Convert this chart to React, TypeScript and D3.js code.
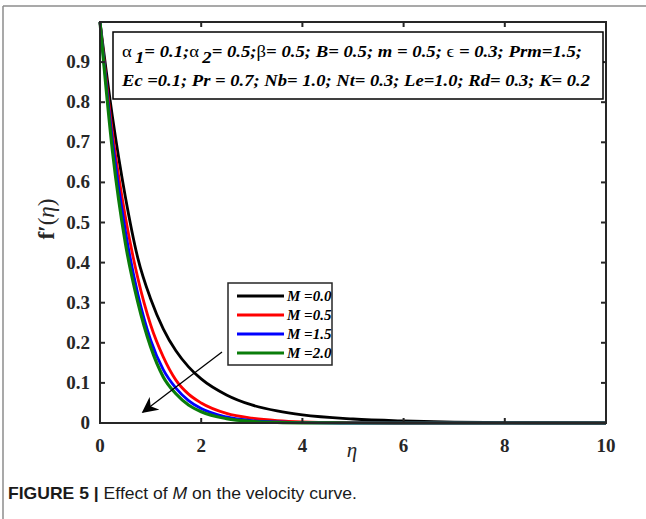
import React from "react";
import * as d3 from "d3";

const ETA = [0, 0.25, 0.5, 0.75, 1, 1.25, 1.5, 1.75, 2, 2.5, 3, 3.5, 4, 5, 6, 7, 8, 10];
const M_00 = [1, 0.76, 0.565, 0.41, 0.31, 0.235, 0.18, 0.14, 0.11, 0.07, 0.045, 0.03, 0.02, 0.01, 0.005, 0.002, 0.001, 0];
const M_05 = [1, 0.72, 0.515, 0.36, 0.245, 0.165, 0.107, 0.072, 0.05, 0.024, 0.012, 0.006, 0.003, 0.001, 0, 0, 0, 0];
const M_15 = [1, 0.70, 0.48, 0.32, 0.207, 0.133, 0.087, 0.056, 0.036, 0.015, 0.006, 0.003, 0.001, 0, 0, 0, 0, 0];
const M_20 = [1, 0.675, 0.45, 0.30, 0.19, 0.115, 0.073, 0.045, 0.028, 0.011, 0.004, 0.0015, 0.0005, 0, 0, 0, 0, 0];

const SERIES_LABELS = ["M =0.0", "M =0.5", "M =1.5", "M =2.0"];
const SERIES_VALUES = [M_00, M_05, M_15, M_20];
const SERIES_COLORS = ["#000000", "#ff0000", "#0000ff", "#0a7d0a"];

const X_TICKS = [0, 2, 4, 6, 8, 10];
const Y_TICKS = [0, 0.1, 0.2, 0.3, 0.4, 0.5, 0.6, 0.7, 0.8, 0.9, 1.0];
const Y_TICK_LABELS = ["0", "0.1", "0.2", "0.3", "0.4", "0.5", "0.6", "0.7", "0.8", "0.9", ""];

const W = 646;
const H = 519;
const SERIF = "Liberation Serif";
const SANS = "Liberation Sans";
const AXIS = "#262626";

export default function App() {
  const x = d3.scaleLinear().domain([0, 10]).range([100, 606]);
  const y = d3.scaleLinear().domain([0, 1]).range([423, 22]);
  const line = d3
    .line<number>()
    .x((_, i) => x(ETA[i]))
    .y((d) => y(d))
    .curve(d3.curveMonotoneX);

  const legendX = 228;
  const legendY = 283;
  const legendRows = [296, 315, 334, 353];

  const greek = { fontWeight: "normal", fontStyle: "normal" } as React.CSSProperties;

  return (
    <svg
      width={W}
      height={H}
      style={{ position: "absolute", left: 0, top: 0, background: "#fff" }}
    >
      <defs>
        <marker id="arrowhead" viewBox="0 0 10 10" refX="9" refY="5" markerWidth="16" markerHeight="16" markerUnits="userSpaceOnUse" orient="auto">
          <path d="M0,0 L10,5 L0,10 L3,5 Z" fill="#000" />
        </marker>
      </defs>
      {/* outer frame */}
      <line x1={3} y1={6} x2={W} y2={6} stroke="#8c8c8c" strokeWidth={1.5} />
      <line x1={3} y1={6} x2={3} y2={H} stroke="#8c8c8c" strokeWidth={1.5} />

      {/* curves */}
      <g fill="none">
        {SERIES_VALUES.map((vals, i) => (
          <path
            key={i}
            d={line(vals) || ""}
            stroke={SERIES_COLORS[i]}
            strokeWidth={i === 3 ? 3.2 : 2.8}
            strokeLinejoin="round"
          />
        ))}
      </g>

      {/* axes box */}
      <rect x={x(0)} y={y(1)} width={x(10) - x(0)} height={y(0) - y(1)} fill="none" stroke={AXIS} strokeWidth={2} />
      {X_TICKS.map((t) => (
        <g key={"xt" + t}>
          <line x1={x(t)} x2={x(t)} y1={y(0)} y2={y(0) - 5} stroke={AXIS} strokeWidth={2} />
          <line x1={x(t)} x2={x(t)} y1={y(1)} y2={y(1) + 5} stroke={AXIS} strokeWidth={2} />
          <text x={x(t)} y={452} textAnchor="middle" fontFamily={SERIF} fontWeight="bold" fontSize={19} fill="#262626">
            {t}
          </text>
        </g>
      ))}
      {Y_TICKS.map((t, i) => (
        <g key={"yt" + i}>
          <line x1={x(0)} x2={x(0) + 5} y1={y(t)} y2={y(t)} stroke={AXIS} strokeWidth={2} />
          <line x1={x(10)} x2={x(10) - 5} y1={y(t)} y2={y(t)} stroke={AXIS} strokeWidth={2} />
          <text x={90} y={y(t) + 6} textAnchor="end" fontFamily={SERIF} fontWeight="bold" fontSize={19} fill="#262626">
            {Y_TICK_LABELS[i]}
          </text>
        </g>
      ))}

      {/* axis labels */}
      <text x={352} y={457} textAnchor="middle" fontFamily={SERIF} fontStyle="italic" fontSize={21} fill="#262626">
        η
      </text>
      <text transform="translate(54,219) rotate(-90)" textAnchor="middle" fontFamily={SERIF} fontSize={23} fill="#262626">
        <tspan fontWeight="bold">f′</tspan>
        <tspan>(</tspan>
        <tspan fontStyle="italic">η</tspan>
        <tspan>)</tspan>
      </text>

      {/* annotation box */}
      <rect x={113} y={32} width={490} height={67} fill="#fff" stroke="#000" strokeWidth={1.5} />
      <text x={122} y={57} fontFamily={SERIF} fontWeight="bold" fontStyle="italic" fontSize={17.5} fill="#000" textLength={460} lengthAdjust="spacingAndGlyphs">
        <tspan style={greek}>α</tspan>
        <tspan dx={3} dy={6}>1</tspan>
        <tspan dy={-6}>= 0.1;</tspan>
        <tspan style={greek}>α</tspan>
        <tspan dx={3} dy={6}>2</tspan>
        <tspan dy={-6}>= 0.5;</tspan>
        <tspan style={greek}>β</tspan>
        <tspan>= 0.5; B= 0.5; m = 0.5; </tspan>
        <tspan style={greek}>ϵ</tspan>
        <tspan> = 0.3; Prm=1.5;</tspan>
      </text>
      <text x={122} y={86} fontFamily={SERIF} fontWeight="bold" fontStyle="italic" fontSize={17.5} fill="#000" textLength={468} lengthAdjust="spacingAndGlyphs">
        Ec =0.1; Pr = 0.7; Nb= 1.0; Nt= 0.3; Le=1.0; Rd= 0.3; K= 0.2
      </text>

      {/* legend */}
      <rect x={legendX} y={legendY} width={104} height={82} fill="#fff" stroke="#262626" strokeWidth={1.5} />
      {SERIES_LABELS.map((lab, i) => (
        <g key={lab}>
          <line x1={237} x2={284} y1={legendRows[i]} y2={legendRows[i]} stroke={SERIES_COLORS[i]} strokeWidth={3} />
          <text x={287} y={legendRows[i] + 5} fontFamily={SERIF} fontWeight="bold" fontStyle="italic" fontSize={15} fill="#000">
            {lab}
          </text>
        </g>
      ))}

      {/* arrow */}
      <line x1={222} y1={352} x2={143} y2={412} stroke="#000" strokeWidth={1.3} markerEnd="url(#arrowhead)" />

      {/* caption */}
      <text x={8} y={499} fontFamily={SANS} fontSize={17} fill="#1a1a1a" textLength={349} lengthAdjust="spacingAndGlyphs">
        <tspan fontWeight="bold">FIGURE 5 | </tspan>
        <tspan>Effect of </tspan>
        <tspan fontStyle="italic">M</tspan>
        <tspan> on the velocity curve.</tspan>
      </text>
    </svg>
  );
}
